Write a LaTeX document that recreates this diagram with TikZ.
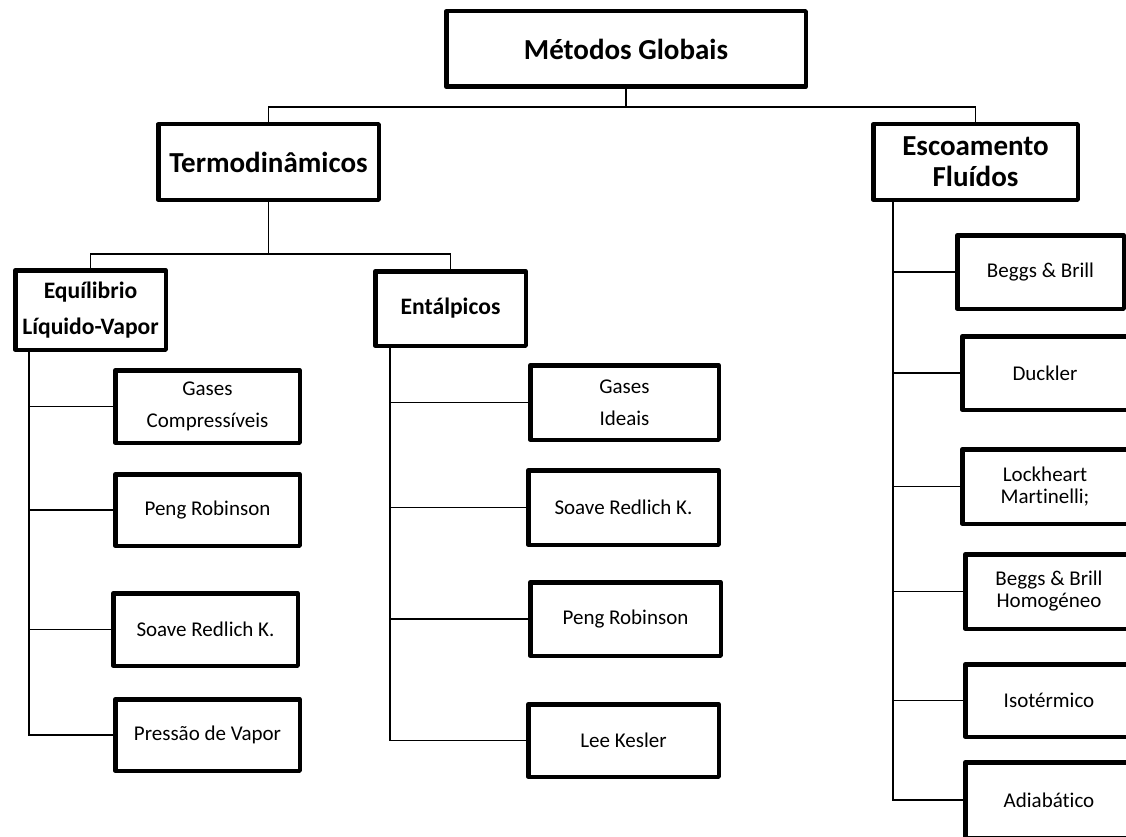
\documentclass[tikz,border=0pt]{standalone}
\usepackage{fontspec}
\setmainfont{Carlito}[Ligatures=NoCommon]
\begin{document}
\begin{tikzpicture}[x=1pt,y=-1pt,
  box/.style={draw=black,line width=4.5pt,line join=round,fill=white,inner sep=0pt,
              align=center,rectangle},
  headbig/.style={box,font=\fontsize{29}{31}\selectfont\bfseries},
  headmid/.style={box,font=\fontsize{23.6}{36}\selectfont\bfseries},
  leaf/.style={box,font=\fontsize{21}{22}\selectfont},
  leafwide/.style={box,font=\fontsize{21}{32}\selectfont},
  link/.style={draw=black,line width=1.9pt}]
\useasboundingbox (0,0) rectangle (1126,837);

% top level
\node[headbig,minimum width=359.5,minimum height=75.5] (mg) at (626,49) {Métodos Globais};
\node[headbig,minimum width=220.5,minimum height=75.5] (termo) at (268.5,162) {Termodinâmicos};
\node[headbig,minimum width=204.5,minimum height=75.5] (esc) at (975.5,162) {Escoamento\\Fluídos};

% second level under Termodinâmicos
\node[headmid,minimum width=150.5,minimum height=79.5] (eq) at (90.5,310) {Equílibrio\\Líquido-Vapor};
\node[headmid,minimum width=150.5,minimum height=74.5] (ent) at (450.5,308.5) {Entálpicos};

% Equilíbrio Líquido-Vapor methods
\node[leafwide,minimum width=184.5,minimum height=72.5] (gc) at (207.5,406.5) {Gases\\Compressíveis};
\node[leaf,minimum width=184.5,minimum height=71.5] (pr1) at (207.5,510) {Peng Robinson};
\node[leaf,minimum width=184.5,minimum height=72.5] (srk1) at (205.5,629.5) {Soave Redlich K.};
\node[leaf,minimum width=184.5,minimum height=71.5] (pv) at (207.5,735) {Pressão de Vapor};

% Entálpicos methods
\node[leafwide,minimum width=188.5,minimum height=74.5] (gi) at (624.5,402.5) {Gases\\Ideais};
\node[leaf,minimum width=190.5,minimum height=74.5] (srk2) at (623.5,507.5) {Soave Redlich K.};
\node[leaf,minimum width=190.5,minimum height=73.5] (pr2) at (625.5,619) {Peng Robinson};
\node[leaf,minimum width=190.5,minimum height=72.5] (lk) at (623.5,740.5) {Lee Kesler};

% Escoamento Fluídos methods
\node[leaf,minimum width=166.5,minimum height=73.5] (bb) at (1040.5,272) {Beggs \& Brill};
\node[leaf,minimum width=165.5,minimum height=73.5] (du) at (1045,373) {Duckler};
\node[leaf,minimum width=165.5,minimum height=74.5] (lm) at (1045,486.5) {Lockheart\\Martinelli;};
\node[leaf,minimum width=167.5,minimum height=74.5] (bbh) at (1049,591.5) {Beggs \& Brill\\Homogéneo};
\node[leaf,minimum width=167.5,minimum height=72.5] (iso) at (1049,700.5) {Isotérmico};
\node[leaf,minimum width=167.5,minimum height=75.5] (adi) at (1049,800) {Adiabático};

% junctions
\coordinate (j0) at (626,107);
\coordinate (j1) at (268.5,254);
\coordinate (eqtop) at (29,350);
\coordinate (enttop) at (390,346);
\coordinate (esctop) at (893,200);

% tree connectors
\draw[link] (mg.south) -- (j0);
\draw[link] (termo.north) |- (j0) -| (esc.north);
\draw[link] (termo.south) -- (j1);
\draw[link] (eq.north) |- (j1) -| (ent.north);

\draw[link] (eqtop) |- (pv.west);
\foreach \n in {gc,pr1,srk1} \draw[link] (\n.west) -- (\n.west -| eqtop);

\draw[link] (enttop) |- (lk.west);
\foreach \n in {gi,srk2,pr2} \draw[link] (\n.west) -- (\n.west -| enttop);

\draw[link] (esctop) |- (adi.west);
\foreach \n in {bb,du,lm,bbh,iso} \draw[link] (\n.west) -- (\n.west -| esctop);
\end{tikzpicture}
\end{document}
